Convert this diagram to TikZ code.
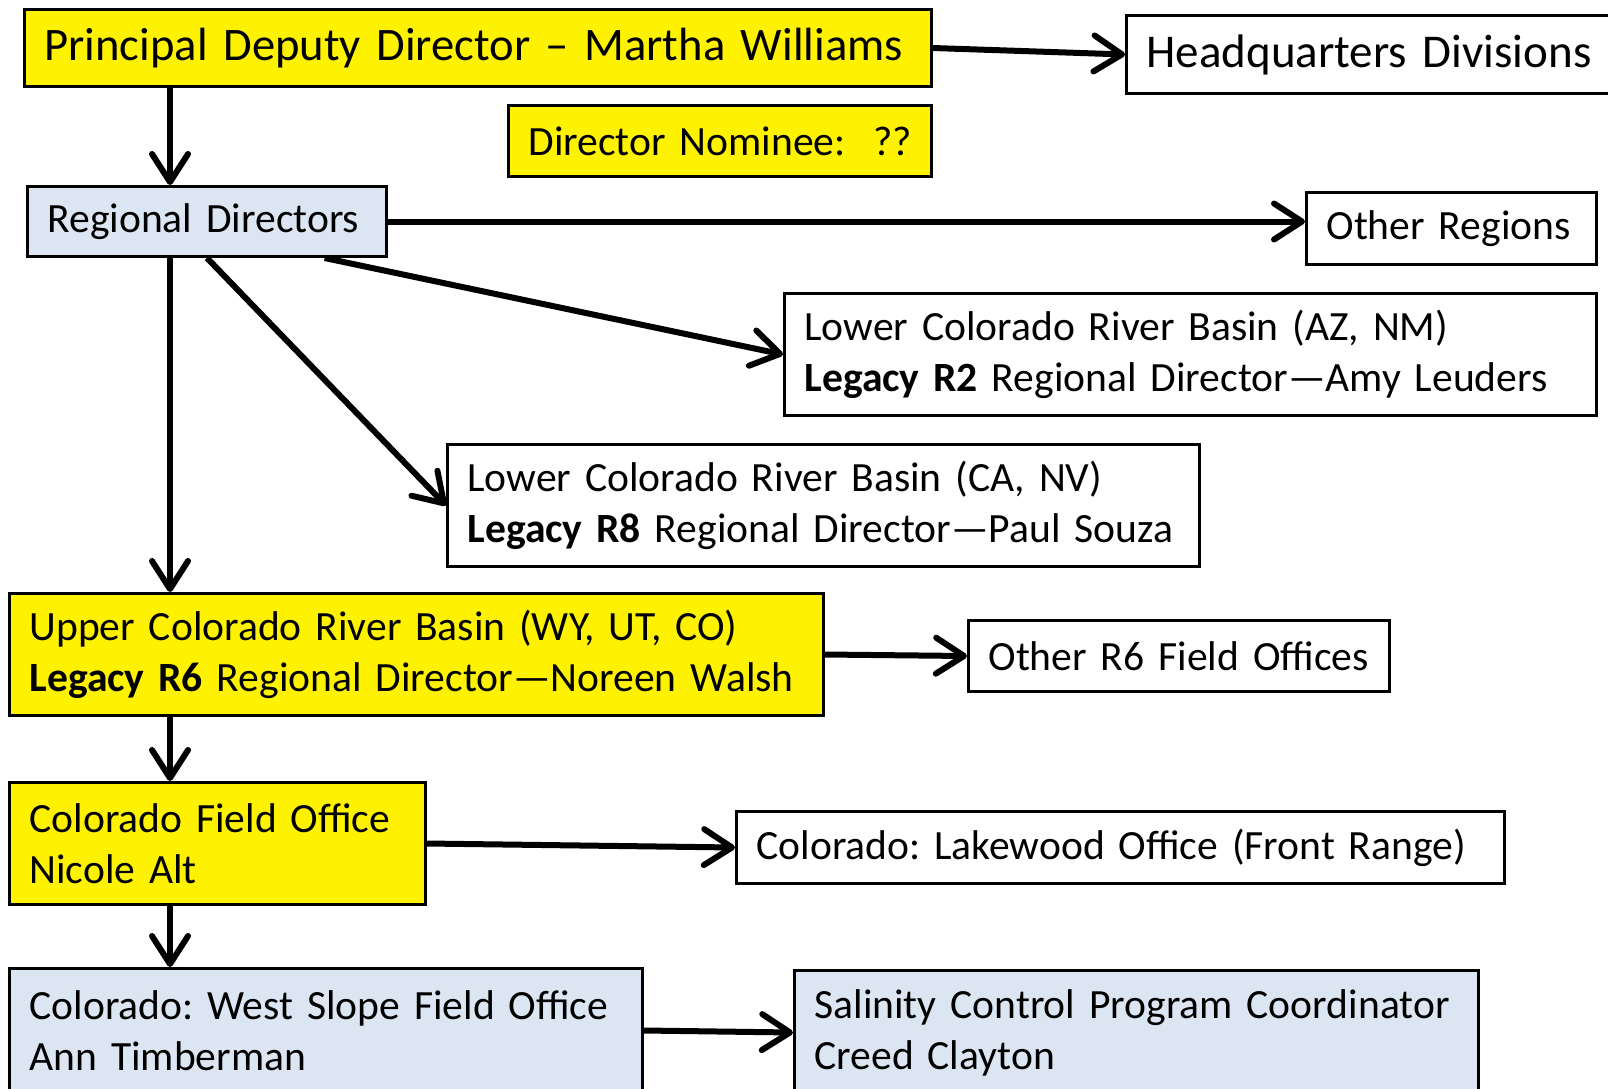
\documentclass[tikz,border=0pt]{standalone}
\usepackage{fontspec}
\setmainfont{Carlito}
\usepackage{xcolor}
\usepackage{tikz}
\usetikzlibrary{positioning}
\usetikzlibrary{arrows.meta}
\usetikzlibrary{calc}

\definecolor{paleblue}{HTML}{DCE6F2}
\frenchspacing

\tikzset{
  box/.style={draw, line width=3pt, anchor=north west,
    inner xsep=20pt, inner ysep=0pt, font=\fontsize{41.6}{51}\selectfont,
    execute at begin node={\raggedright\hyphenpenalty=10000\rightskip=0pt plus 2em minus 30pt}},
  gold/.style={box, fill=yellow},
  pale/.style={box, fill=paleblue},
  plain/.style={box, fill=white},
  link/.style={-{Straight Barb[length=28pt,width=36pt,round]}, line width=6pt}
}

\begin{document}
\begin{tikzpicture}[x=1pt,y=-1pt]
\useasboundingbox (0,0) rectangle (1608,1088);
\clip (0,0) rectangle (1608,1088);

\node[gold, text width=867pt, minimum height=77pt, font=\fontsize{46.6}{56}\selectfont] (pdd) at (23,8) {Principal Deputy Director – Martha Williams};
\node[plain, text width=470pt, minimum height=78pt, font=\fontsize{47}{56}\selectfont] (hq) at (1125,14) {Headquarters Divisions};
\node[gold, text width=383pt, minimum height=71pt] (nom) at (507,104) {Director Nominee:\ \ ??};
\node[pale, text width=319pt, minimum height=70pt] (rd) at (26,185) {Regional Directors};
\node[plain, text width=250pt, minimum height=72pt] (oreg) at (1305,191) {Other Regions};
\node[plain, text width=772pt, minimum height=122pt] (lcan) at (783,292) {Lower Colorado River Basin (AZ, NM)\\\textbf{Legacy R2} Regional Director—Amy Leuders};
\node[plain, text width=712pt, minimum height=122pt] (lccn) at (446,443) {Lower Colorado River Basin (CA, NV)\\\textbf{Legacy R8} Regional Director—Paul Souza};
\node[gold, text width=774pt, minimum height=122pt] (ucb) at (8,592) {Upper Colorado River Basin (WY, UT, CO)\\\textbf{Legacy R6} Regional Director—Noreen Walsh};
\node[plain, text width=381pt, minimum height=71pt] (or6) at (967,619) {Other R6 Field Offices};
\node[gold, text width=376pt, minimum height=122pt] (cfo) at (8,781) {Colorado Field Office\\Nicole Alt};
\node[plain, text width=728pt, minimum height=72pt] (lake) at (735,810) {Colorado: Lakewood Office (Front Range)};
\node[pale, text width=593pt, minimum height=124pt] (wsfo) at (8,967) {Colorado: West Slope Field Office\\Ann Timberman};
\node[pale, text width=644pt, minimum height=124pt] (sal) at (793,969) {Salinity Control Program Coordinator\\Creed Clayton};

\coordinate (spine) at (170,0);

\path (pdd.east)  edge [link] (hq.west)
      (pdd.south -| spine) edge [link] (rd.north -| spine)
      (rd.east)   edge [link] (rd.east -| oreg.west)
      ($(rd.south)!0.65!(rd.south east)$) edge [link] (lcan.west)
      (rd.south)  edge [link] (lccn.west)
      (rd.south -| spine)  edge [link] (ucb.north -| spine)
      (ucb.east)  edge [link] (or6.west)
      (ucb.south -| spine) edge [link] (cfo.north -| spine)
      (cfo.east)  edge [link] (lake.west)
      (cfo.south -| spine) edge [link] (wsfo.north -| spine)
      (wsfo.east) edge [link] (sal.west);

\end{tikzpicture}
\end{document}
